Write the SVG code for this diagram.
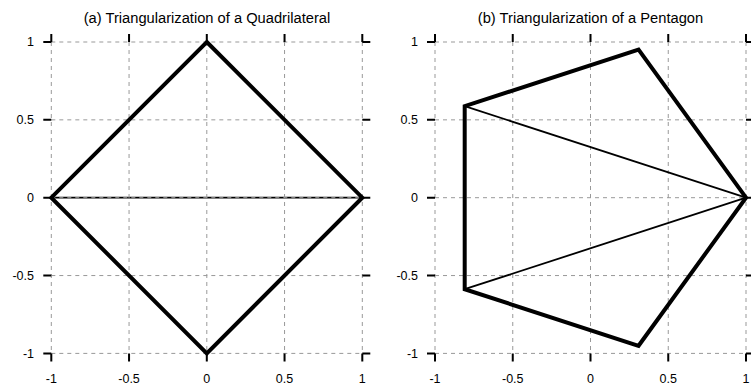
<svg xmlns="http://www.w3.org/2000/svg" width="751" height="388" viewBox="0 0 751 388">
<style>
text{font-family:"Liberation Sans",Arial,sans-serif;fill:#000}
.title{font-size:14.7px;text-anchor:middle}
.yl{font-size:12.5px;text-anchor:end}
.xl{font-size:12.5px;text-anchor:middle}
.grid{stroke:#999;stroke-width:1;stroke-dasharray:4 4;fill:none}
.tick{stroke:#000;stroke-width:2;fill:none}
.thick{stroke:#000;stroke-width:4;fill:none;stroke-linejoin:miter}
.thin{stroke:#000;stroke-width:1.8;fill:none}
</style>
<rect width="751" height="388" fill="#fff"/>
<g id="plot-a">
<text class="title" x="207" y="23">(a) Triangularization of a Quadrilateral</text>
<g id="a-diagonal"><line class="thin" x1="51.3" y1="197.7" x2="362.3" y2="197.7"/></g>
<g id="a-grid" class="grid">
<line x1="51.3" y1="42" x2="51.3" y2="353.4"/>
<line x1="129.05" y1="42" x2="129.05" y2="353.4"/>
<line x1="206.8" y1="42" x2="206.8" y2="353.4"/>
<line x1="284.55" y1="42" x2="284.55" y2="353.4"/>
<line x1="362.3" y1="42" x2="362.3" y2="353.4"/>
<line x1="51.3" y1="42" x2="362.3" y2="42"/>
<line x1="51.3" y1="119.85" x2="362.3" y2="119.85"/>
<line x1="51.3" y1="197.7" x2="362.3" y2="197.7"/>
<line x1="51.3" y1="275.55" x2="362.3" y2="275.55"/>
<line x1="51.3" y1="353.4" x2="362.3" y2="353.4"/>
</g>
<g id="a-ticks" class="tick">
<path d="M51.3 34V42M129.05 34V42M206.8 34V42M284.55 34V42M362.3 34V42"/>
<path d="M51.3 353.4V361.4M129.05 353.4V361.4M206.8 353.4V361.4M284.55 353.4V361.4M362.3 353.4V361.4"/>
<path d="M43.3 42H51.3M43.3 119.85H51.3M43.3 197.7H51.3M43.3 275.55H51.3M43.3 353.4H51.3"/>
<path d="M362.3 42H370.3M362.3 119.85H370.3M362.3 197.7H370.3M362.3 275.55H370.3M362.3 353.4H370.3"/>
</g>
<g id="a-labels">
<text class="yl" x="34" y="46.3">1</text>
<text class="yl" x="34" y="124.2">0.5</text>
<text class="yl" x="34" y="202">0</text>
<text class="yl" x="34" y="279.9">-0.5</text>
<text class="yl" x="34" y="357.7">-1</text>
<text class="xl" x="51.3" y="382.5">-1</text>
<text class="xl" x="129.05" y="382.5">-0.5</text>
<text class="xl" x="206.8" y="382.5">0</text>
<text class="xl" x="284.55" y="382.5">0.5</text>
<text class="xl" x="362.3" y="382.5">1</text>
</g>
<g id="a-quadrilateral"><polygon class="thick" points="206.8,42 362.3,197.7 206.8,353.4 51.3,197.7"/></g>
</g>
<g id="plot-b">
<text class="title" x="590.5" y="23">(b) Triangularization of a Pentagon</text>
<g id="b-grid" class="grid">
<line x1="435" y1="42" x2="435" y2="353.4"/>
<line x1="512.75" y1="42" x2="512.75" y2="353.4"/>
<line x1="590.5" y1="42" x2="590.5" y2="353.4"/>
<line x1="668.25" y1="42" x2="668.25" y2="353.4"/>
<line x1="746" y1="42" x2="746" y2="353.4"/>
<line x1="435" y1="42" x2="746" y2="42"/>
<line x1="435" y1="119.85" x2="746" y2="119.85"/>
<line x1="435" y1="197.7" x2="746" y2="197.7"/>
<line x1="435" y1="275.55" x2="746" y2="275.55"/>
<line x1="435" y1="353.4" x2="746" y2="353.4"/>
</g>
<g id="b-ticks" class="tick">
<path d="M435 34V42M512.75 34V42M590.5 34V42M668.25 34V42M746 34V42"/>
<path d="M435 353.4V361.4M512.75 353.4V361.4M590.5 353.4V361.4M668.25 353.4V361.4M746 353.4V361.4"/>
<path d="M427 42H435M427 119.85H435M427 197.7H435M427 275.55H435M427 353.4H435"/>
<path d="M746 42H754M746 119.85H754M746 197.7H754M746 275.55H754M746 353.4H754"/>
</g>
<g id="b-labels">
<text class="yl" x="418" y="46.3">1</text>
<text class="yl" x="418" y="124.2">0.5</text>
<text class="yl" x="418" y="202">0</text>
<text class="yl" x="418" y="279.9">-0.5</text>
<text class="yl" x="418" y="357.7">-1</text>
<text class="xl" x="435" y="382.5">-1</text>
<text class="xl" x="512.75" y="382.5">-0.5</text>
<text class="xl" x="590.5" y="382.5">0</text>
<text class="xl" x="668.25" y="382.5">0.5</text>
<text class="xl" x="746" y="382.5">1</text>
</g>
<g id="b-diagonals">
<line class="thin" x1="746" y1="197.7" x2="464.7" y2="106.18"/>
<line class="thin" x1="746" y1="197.7" x2="464.7" y2="289.22"/>
</g>
<g id="b-pentagon"><polygon class="thick" points="746,197.7 638.55,49.62 464.7,106.18 464.7,289.22 638.55,345.78"/></g>
</g>
</svg>
